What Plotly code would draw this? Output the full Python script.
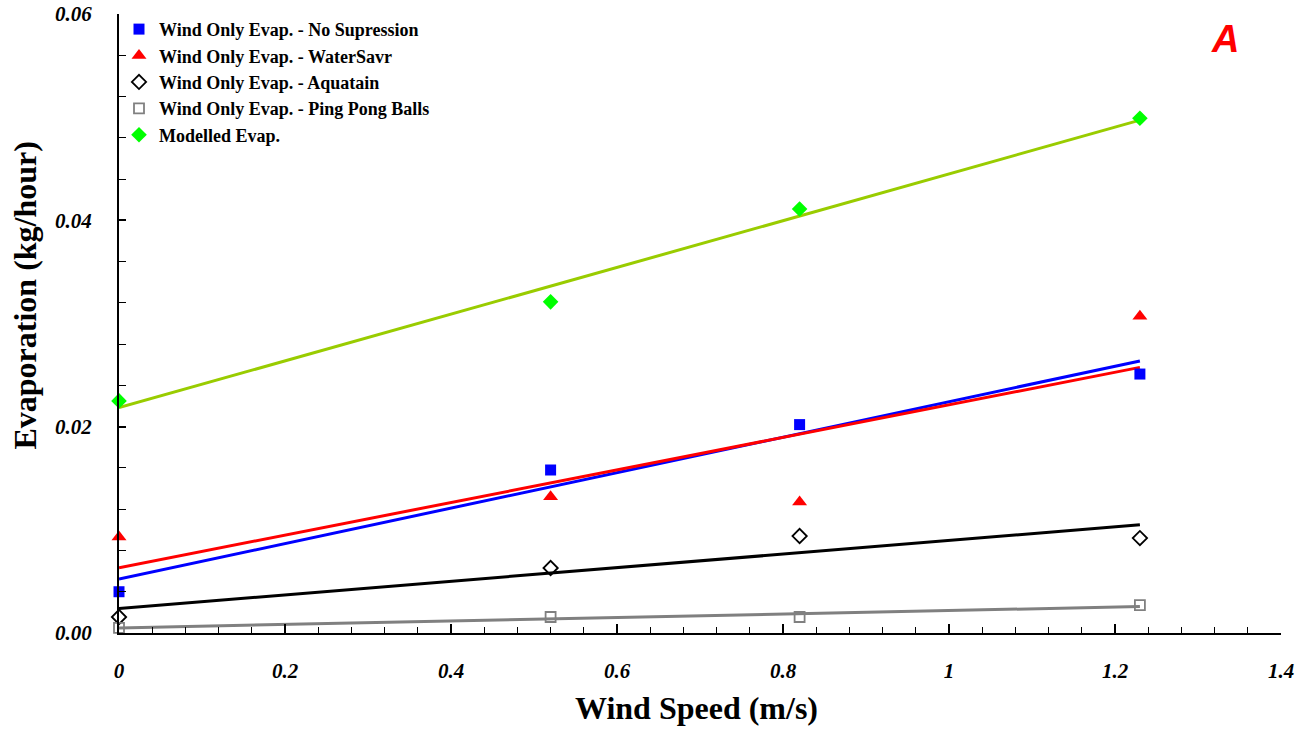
import numpy as np
import plotly.graph_objects as go

wind_speed = [0.0, 0.52, 0.82, 1.23]
no_supression = [0.0040, 0.0158, 0.0202, 0.0251]
watersavr = [0.0093, 0.0132, 0.0127, 0.0307]
aquatain = [0.00155, 0.0063, 0.0094, 0.0092]
ping_pong = [0.0005, 0.00155, 0.00155, 0.0027]
modelled = [0.0225, 0.0321, 0.0411, 0.0499]

series = [
    ("Wind Only Evap. - No Supression", no_supression,
     dict(symbol="square", color="#0000FF", size=11), "#0000FF"),
    ("Wind Only Evap. - WaterSavr", watersavr,
     dict(symbol="triangle-up", color="#FF0000", size=13), "#FF0000"),
    ("Wind Only Evap. - Aquatain", aquatain,
     dict(symbol="diamond-open", color="#000000", size=11, line=dict(width=1.8)), "#000000"),
    ("Wind Only Evap. - Ping Pong Balls", ping_pong,
     dict(symbol="square-open", color="#808080", size=10, line=dict(width=1.8)), "#808080"),
    ("Modelled Evap.", modelled,
     dict(symbol="diamond", color="#00FF00", size=12), "#99CC00"),
]

fig = go.Figure()
x = np.array(wind_speed)
# trend lines first (behind markers)
for name, ys, mk, lc in series:
    m, b = np.polyfit(x, np.array(ys), 1)
    xs = np.array([x.min(), x.max()])
    fig.add_trace(go.Scatter(x=xs, y=m * xs + b, mode="lines",
                             line=dict(color=lc, width=3), showlegend=False,
                             hoverinfo="skip"))
for name, ys, mk, lc in series:
    fig.add_trace(go.Scatter(x=wind_speed, y=ys, mode="markers", name=name,
                             marker=mk, cliponaxis=False))

tickfont = dict(family="Liberation Serif", size=21, color="black", weight="bold", style="italic")

fig.update_layout(
    width=1310, height=731,
    margin=dict(l=119, r=29, t=14, b=98, autoexpand=False),
    paper_bgcolor="white", plot_bgcolor="white",
    showlegend=True,
    legend=dict(x=0.0, y=1.005, xanchor="left", yanchor="top",
                bgcolor="rgba(0,0,0,0)", tracegroupgap=0, itemwidth=30,
                font=dict(family="Liberation Serif", size=18, color="black", weight="bold")),
    xaxis=dict(range=[0, 1.4], dtick=0.2, tick0=0, showgrid=False, zeroline=False,
               showline=True, linecolor="black", linewidth=2,
               ticks="inside", ticklen=9, tickwidth=1.5, tickcolor="black",
               minor=dict(dtick=0.04, ticks="inside", ticklen=6, tickwidth=1.2, tickcolor="black"),
               tickfont=tickfont, ticklabelstandoff=18,
               tickvals=[0, 0.2, 0.4, 0.6, 0.8, 1.0, 1.2, 1.4],
               ticktext=["0", "0.2", "0.4", "0.6", "0.8", "1", "1.2", "1.4"]),
    yaxis=dict(range=[0, 0.06], dtick=0.02, tick0=0, showgrid=False, zeroline=False,
               showline=True, linecolor="black", linewidth=2,
               ticks="inside", ticklen=7, tickwidth=1.5, tickcolor="black",
               minor=dict(dtick=0.004, ticks="inside", ticklen=7, tickwidth=1.2, tickcolor="black"),
               tickfont=tickfont, tickformat=".2f", ticklabelstandoff=21),
    annotations=[
        dict(text="Wind Speed (m/s)", xref="paper", yref="paper", x=0.497, y=-0.121,
             xanchor="center", yanchor="middle", showarrow=False,
             font=dict(family="Liberation Serif", size=32, color="black", weight="bold")),
        dict(text="Evaporation (kg/hour)", xref="paper", yref="paper", x=-0.081, y=0.545,
             xanchor="center", yanchor="middle", showarrow=False, textangle=-90,
             font=dict(family="Liberation Serif", size=32, color="black", weight="bold")),
        dict(text="A", xref="paper", yref="paper", x=0.952, y=0.96,
             xanchor="center", yanchor="middle", showarrow=False,
             font=dict(family="Liberation Sans", size=38, color="#FF0000", weight="bold", style="italic")),
    ],
)

fig.write_html("out.html")
